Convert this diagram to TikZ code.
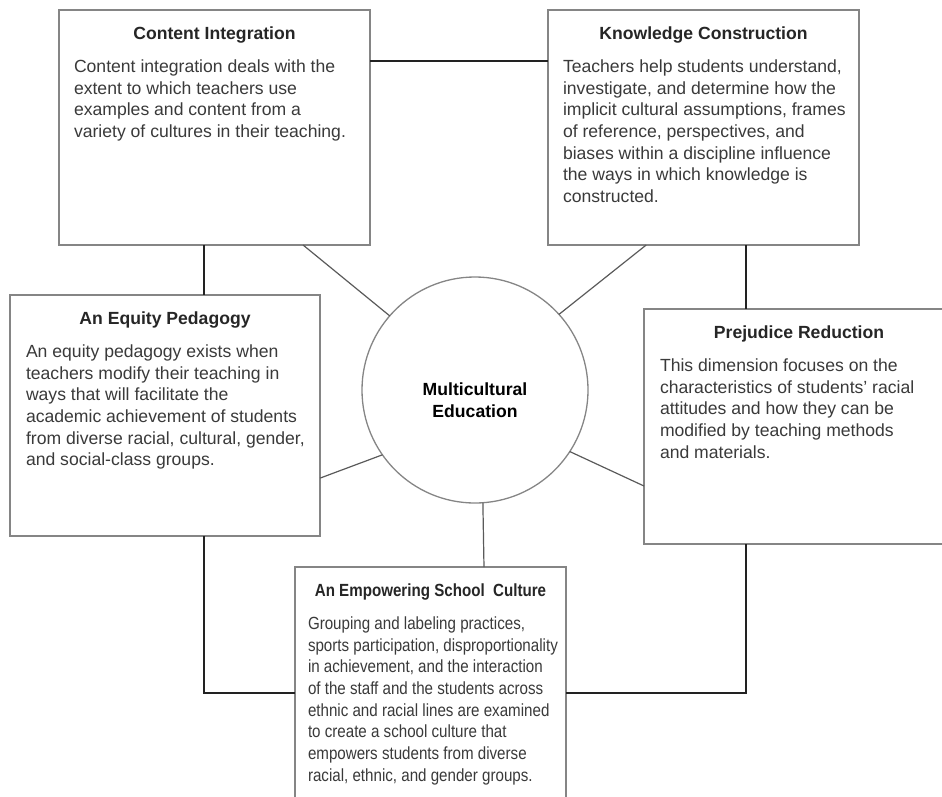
\documentclass[tikz,border=0pt]{standalone}
\usepackage{fontspec}
\setmainfont{Liberation Sans}
\newfontfamily\narrowsans[FakeStretch=0.86]{Liberation Sans}
\usetikzlibrary{positioning}
\definecolor{boxgray}{HTML}{858585}
\definecolor{linedark}{HTML}{222222}
\definecolor{spokegray}{HTML}{5A5A5A}
\definecolor{textgray}{HTML}{3A3A3A}
% width, height, title, body
\newcommand{\dimtext}[4]{%
  \parbox[c][#2][t]{#1}{\vspace*{17pt}%
    \makebox[\linewidth]{\bfseries\color{black!85}#3}\par
    \vspace{11pt}\noindent\color{textgray}%
    \begin{tabular}[t]{@{}l@{}}#4\end{tabular}}}

\begin{document}
\begin{tikzpicture}[x=1pt,y=-1pt,
  font=\fontsize{17.6}{21.7}\selectfont,
  dim/.style={draw=boxgray,line width=1.3pt,fill=white,anchor=north west,
    inner xsep=15pt,inner ysep=0pt,outer sep=0pt},
  hub/.style={circle,draw=boxgray,line width=1.3pt,minimum size=226pt,
    inner sep=0pt,outer sep=0pt,align=center,
    font=\fontsize{17.6}{22}\selectfont\bfseries},
  link/.style={draw=linedark,line width=2pt},
  spoke/.style={draw=spokegray,line width=1.2pt}]
  \useasboundingbox (0,0) rectangle (942,796);
  \clip (0,0) rectangle (942,796);

  \node[dim] (ci) at (59,10) {\dimtext{281pt}{235pt}{Content Integration}{%
    Content integration deals with the\\
    extent to which teachers use\\
    examples and content from a\\
    variety of cultures in their teaching.}};
  \node[dim] (kc) at (548,10) {\dimtext{281pt}{235pt}{Knowledge Construction}{%
    Teachers help students understand,\\
    investigate, and determine how the\\
    implicit cultural assumptions, frames\\
    of reference, perspectives, and\\
    biases within a discipline influence\\
    the ways in which knowledge is\\
    constructed.}};
  \node[dim,inner xsep=16pt] (ep) at (10,295) {\dimtext{278pt}{241pt}{An Equity Pedagogy}{%
    An equity pedagogy exists when\\
    teachers modify their teaching in\\
    ways that will facilitate the\\
    academic achievement of students\\
    from diverse racial, cultural, gender,\\
    and social-class groups.}};
  \node[dim,inner xsep=16pt] (pr) at (644,309) {\dimtext{278pt}{235pt}{Prejudice Reduction}{%
    This dimension focuses on the\\
    characteristics of students' racial\\
    attitudes and how they can be\\
    modified by teaching methods\\
    and materials.}};
  \node[dim,inner xsep=13pt,font=\fontsize{17.6}{21.7}\narrowsans] (ec) at (295,567)
    {\dimtext{245pt}{252pt}{An Empowering School\ \ Culture}{%
    Grouping and labeling practices,\\
    sports participation, disproportionality\\
    in achievement, and the interaction\\
    of the staff and the students across\\
    ethnic and racial lines are examined\\
    to create a school culture that\\
    empowers students from diverse\\
    racial, ethnic, and gender groups.}};
  \node[hub] (me) at (475,390) {\rule{0pt}{33pt}Multicultural\\Education};

  % outer ring
  \path[link]
  (ci.23.5) edge (ci.23.5 -| kc.west)
  (ci.-95) edge (ci.-95 |- ep.north)
  (kc.-70) edge (kc.-70 |- pr.north)
  ;
  \draw[link] (ep.south -| ci.-95) |- (ec.west);
  \draw[link] (pr.south -| kc.-70) |- (ec.east);

  % spokes
  \path[spoke]
  (me.139.6) edge (ci.-53)
  (me.42.2) edge (kc.-116.9)
  (me.215.2) edge (ep.-22.6)
  (me.-33) edge (pr.201.3)
  (me.-86.4) edge (ec.67.8)
  ;
\end{tikzpicture}
\end{document}
